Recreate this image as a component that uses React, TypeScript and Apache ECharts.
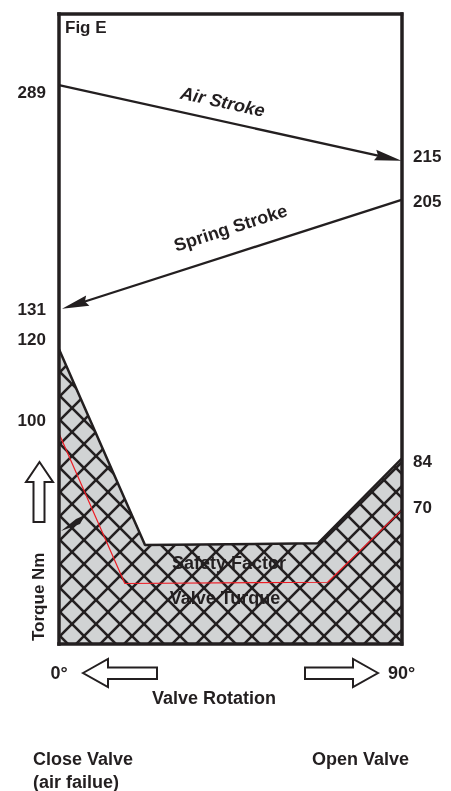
import React, { useEffect, useRef } from "react";
import * as echarts from "echarts";

// ---- Data ----
// x: valve rotation in degrees; y: schematic drawing height (% of plot height, not to scale)
const rotationTicks = [0, 90];

const airStrokeAngles = [0, 90];
const airStrokeLevel = [88.7, 76.7];
const airStrokeTorque = [289, 215]; // Nm

const springStrokeAngles = [90, 0.8];
const springStrokeLevel = [70.5, 53.2];
const springStrokeTorque = [205, 131]; // Nm

const safetyAngles = [0, 22.6, 68.1, 90];
const safetyLevel = [46.8, 15.7, 16.0, 29.4];
const safetyTorqueEnds = [120, 84]; // Nm at 0° and 90°

const valveAngles = [0, 17.3, 70.6, 90];
const valveLevel = [33.4, 9.6, 9.8, 21.2];
const valveTorqueEnds = [100, 70]; // Nm at 0° and 90°

const strokeNames = ["Air Stroke", "Spring Stroke"];

const INK = "#231f20";
const FONT = "'Liberation Sans', Arial, sans-serif";

export default function App() {
  const ref = useRef<HTMLDivElement>(null);

  useEffect(() => {
    document.body.style.margin = "0";
    if (!ref.current) return;
    const chart = echarts.init(ref.current, null, { renderer: "svg" });

    // crosshatch tile
    const tile = document.createElement("canvas");
    tile.width = 24;
    tile.height = 24;
    const ctx = tile.getContext("2d")!;
    ctx.fillStyle = "#d1d3d4";
    ctx.fillRect(0, 0, 24, 24);
    ctx.strokeStyle = INK;
    ctx.lineWidth = 2.6;
    ctx.lineCap = "square";
    for (const dx of [-24, 0, 24]) {
      ctx.beginPath();
      ctx.moveTo(dx, 0);
      ctx.lineTo(dx + 24, 24);
      ctx.stroke();
      ctx.beginPath();
      ctx.moveTo(dx + 24, 0);
      ctx.lineTo(dx, 24);
      ctx.stroke();
    }

    const strokeData = [
      [airStrokeAngles[0], airStrokeLevel[0], airStrokeAngles[1], airStrokeLevel[1]],
      [springStrokeAngles[0], springStrokeLevel[0], springStrokeAngles[1], springStrokeLevel[1]],
    ];
    const strokeLabelStyle = [
      { along: -12, normal: 19, italic: true },
      { along: 7, normal: 25.5, italic: false },
    ];

    const leftLabels = [
      { value: [0, airStrokeLevel[0]], t: airStrokeTorque[0], dy: 7 },
      { value: [0, springStrokeLevel[1]], t: springStrokeTorque[1], dy: 1 },
      { value: [safetyAngles[0], safetyLevel[0]], t: safetyTorqueEnds[0], dy: -10 },
      { value: [valveAngles[0], valveLevel[0]], t: valveTorqueEnds[0], dy: -13 },
    ];
    const rightLabels = [
      { value: [90, airStrokeLevel[1]], t: airStrokeTorque[1], dy: -4 },
      { value: [90, springStrokeLevel[0]], t: springStrokeTorque[0], dy: 2 },
      { value: [safetyAngles[3], safetyLevel[3]], t: safetyTorqueEnds[1], dy: 3 },
      { value: [valveAngles[3], valveLevel[3]], t: valveTorqueEnds[1], dy: -3 },
    ];

    const numLabel = {
      show: true,
      color: INK,
      opacity: 1,
      fontFamily: FONT,
      fontWeight: "bold" as const,
      fontSize: 17,
    };

    const axisLine = { show: true, onZero: false, lineStyle: { color: INK, width: 3.5, cap: "square" } };

    const txt = (text: string, x: number, y: number, align: string, size = 18, extra: any = {}) => ({
      type: "text",
      x,
      y,
      z: 100,
      ...extra,
      style: {
        text,
        fill: INK,
        font: `bold ${size}px ${FONT}`,
        align,
        textAlign: align,
        verticalAlign: "middle",
        textVerticalAlign: "middle",
      },
    });
    const hollow = (points: number[][]) => ({
      type: "polygon",
      z: 100,
      shape: { points },
      style: { fill: "#fff", stroke: INK, lineWidth: 2 },
    });

    chart.setOption({
      animation: false,
      grid: { left: 59, top: 14, width: 342.5, height: 630 },
      xAxis: [
        {
          type: "value",
          min: 0,
          max: 90,
          interval: 90,
          position: "bottom",
          z: 10,
          axisLine,
          axisTick: { show: false },
          splitLine: { show: false },
          axisLabel: {
            show: true,
            margin: 20,
            formatter: (v: number) => (rotationTicks.includes(v) ? `${v}°` : ""),
            color: INK,
            fontFamily: FONT,
            fontWeight: "bold",
            fontSize: 18,
          },
        },
        {
          type: "value",
          min: 0,
          max: 90,
          position: "top",
          z: 10,
          axisLine,
          axisTick: { show: false },
          splitLine: { show: false },
          axisLabel: { show: false },
        },
      ],
      yAxis: [
        {
          type: "value",
          min: 0,
          max: 100,
          position: "left",
          z: 10,
          axisLine,
          axisTick: { show: false },
          splitLine: { show: false },
          axisLabel: { show: false },
        },
        {
          type: "value",
          min: 0,
          max: 100,
          position: "right",
          z: 10,
          axisLine,
          axisTick: { show: false },
          splitLine: { show: false },
          axisLabel: { show: false },
        },
      ],
      series: [
        {
          type: "line",
          name: "Safety Factor",
          z: 2,
          symbol: "none",
          data: safetyAngles.map((a, i) => [a, safetyLevel[i]]),
          lineStyle: { color: INK, width: 2.5 },
          areaStyle: {
            opacity: 1,
            color: { image: tile, repeat: "repeat", imageWidth: 24, imageHeight: 24 } as any,
          },
        },
        {
          type: "line",
          name: "Valve Torque",
          z: 3,
          symbol: "none",
          data: valveAngles.map((a, i) => [a, valveLevel[i]]),
          lineStyle: { color: "#ed1c24", width: 1.2 },
        },
        {
          type: "custom",
          name: "Strokes",
          z: 4,
          encode: { x: [0, 2], y: [1, 3] },
          data: strokeData,
          renderItem: (params: any, api: any) => {
            const i = params.dataIndex;
            const p0 = api.coord([api.value(0), api.value(1)]);
            const p1 = api.coord([api.value(2), api.value(3)]);
            const dx = p1[0] - p0[0];
            const dy = p1[1] - p0[1];
            const len = Math.hypot(dx, dy);
            const ux = dx / len;
            const uy = dy / len;
            const nx = -uy;
            const ny = ux;
            const headLen = 27;
            const half = 5.3;
            const notch = 3;
            const bx = p1[0] - ux * headLen;
            const by = p1[1] - uy * headLen;
            const ix = p1[0] - ux * (headLen - notch);
            const iy = p1[1] - uy * (headLen - notch);
            let tx = ux;
            let ty = uy;
            if (tx < 0) {
              tx = -tx;
              ty = -ty;
            }
            const upx = ty;
            const upy = -tx;
            const ls = strokeLabelStyle[i];
            const mx = (p0[0] + p1[0]) / 2 + tx * ls.along + upx * ls.normal;
            const my = (p0[1] + p1[1]) / 2 + ty * ls.along + upy * ls.normal;
            return {
              type: "group",
              children: [
                {
                  type: "line",
                  shape: { x1: p0[0], y1: p0[1], x2: ix, y2: iy },
                  style: { stroke: INK, lineWidth: 2.3 },
                },
                {
                  type: "polygon",
                  shape: {
                    points: [
                      [p1[0], p1[1]],
                      [bx + nx * half, by + ny * half],
                      [ix, iy],
                      [bx - nx * half, by - ny * half],
                    ],
                  },
                  style: { fill: INK },
                },
                {
                  type: "text",
                  x: mx,
                  y: my,
                  rotation: -Math.atan2(ty, tx),
                  style: {
                    text: strokeNames[i],
                    fill: INK,
                    font: `${ls.italic ? "italic " : ""}bold 18px ${FONT}`,
                    align: "center",
                    textAlign: "center",
                    verticalAlign: "middle",
                    textVerticalAlign: "middle",
                  },
                },
              ],
            };
          },
        },
        {
          type: "scatter",
          name: "left values",
          symbolSize: 0.1,
          itemStyle: { color: "transparent", opacity: 1 },
          data: leftLabels.map((d) => ({
            value: d.value,
            label: { ...numLabel, position: "left", distance: 13, offset: [0, d.dy], formatter: String(d.t) },
          })),
        },
        {
          type: "scatter",
          name: "right values",
          symbolSize: 0.1,
          itemStyle: { color: "transparent", opacity: 1 },
          data: rightLabels.map((d) => ({
            value: d.value,
            label: { ...numLabel, position: "right", distance: 11.5, offset: [0, d.dy], formatter: String(d.t) },
          })),
        },
      ],
      graphic: [
        txt("Fig E", 65, 27, "left", 17),
        txt("Safety Factor", 229, 563, "center"),
        txt("Valve Turque", 225, 598, "center"),
        txt("Torque Nm", 38, 641, "left", 17, { rotation: Math.PI / 2 }),
        txt("Valve Rotation", 214, 698, "center"),
        txt("Close Valve", 33, 759, "left"),
        txt("(air failue)", 33, 782, "left"),
        txt("Open Valve", 312, 759, "left"),
        hollow([
          [39.5, 462],
          [53, 482],
          [44.5, 482],
          [44.5, 522],
          [33.5, 522],
          [33.5, 482],
          [26, 482],
        ]),
        hollow([
          [83, 673],
          [108, 659],
          [108, 667.5],
          [157, 667.5],
          [157, 679],
          [108, 679],
          [108, 687],
        ]),
        hollow([
          [378, 673],
          [353, 659],
          [353, 667.5],
          [305, 667.5],
          [305, 679],
          [353, 679],
          [353, 687],
        ]),
        {
          type: "polygon",
          z: 100,
          shape: {
            points: [
              [61, 531],
              [76, 519],
              [85, 515],
              [80, 524],
            ],
          },
          style: { fill: INK },
        },
      ],
    });

    return () => chart.dispose();
  }, []);

  return <div ref={ref} style={{ position: "fixed", left: 0, top: 0, width: 451, height: 791 }} />;
}
